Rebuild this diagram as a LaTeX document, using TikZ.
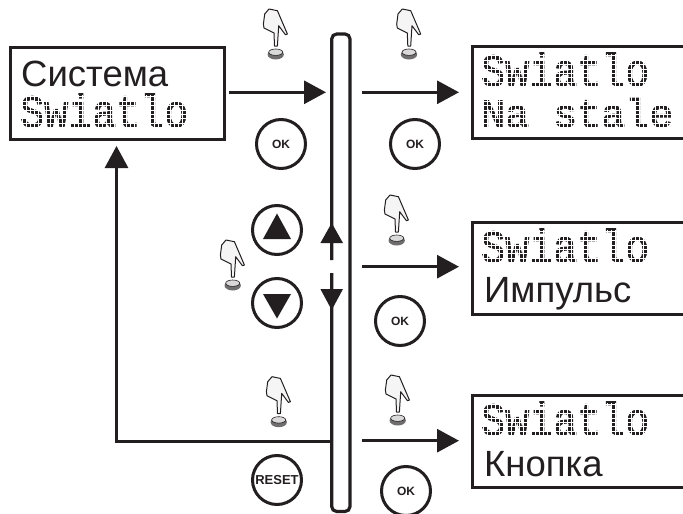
\documentclass[tikz,border=0pt]{standalone}
\usepackage{fontspec}
\setmainfont{Liberation Sans}
\newfontfamily\dotfont[FakeBold=2.5]{Liberation Mono}
\usetikzlibrary{arrows.meta,shapes.geometric}
\definecolor{ink}{HTML}{231F20}
\tikzset{
  lcd/.style={draw=ink,line width=3.2pt,rectangle,anchor=north west,inner sep=0pt},
  flow/.style={draw=ink,line width=3pt,-{Triangle[length=22pt,width=23pt]}},
  rail/.style={draw=ink,line width=3.2pt},
  btn/.style={circle,draw=ink,line width=3pt,minimum size=49pt,inner sep=0pt,fill=white},
  oklabel/.style={font=\bfseries\fontsize{12}{12}\selectfont,text=ink},
  label/.style={font=\fontsize{36.5}{36.5}\selectfont,text=ink,anchor=base west,inner sep=0pt,text depth=0pt},
  dotlabel/.style={font=\dotfont\fontsize{40}{40}\selectfont,text=ink,anchor=base west,inner sep=0pt,text height=27pt,text depth=0pt},
  pics/hand/.style={code={
    \fill[ink!65] (0,1.5) ellipse [x radius=8.2,y radius=5];
    \draw[ink,line width=.6pt,fill=black!15] (0,-0.8) ellipse [x radius=7,y radius=3.2];
    \draw[ink,line width=1pt,fill=black!4,line join=round]
      (-6.7,-44) -- (1.7,-42.3) -- (11.7,-19) -- (9.7,-18.3) -- (3,-27.3) -- (1.7,-7) -- (-1.2,-7)
      -- (-1.7,-20) -- (-11.7,-25) -- (-12.3,-29) -- (-11,-39) -- cycle;
  }}
}
% real text, cut into dot-matrix cells by a white grid
\newcommand{\dotrow}[7]{% name, x, baseline, y stretch, text, cols, rows
  \node[dotlabel] (#1) at (#2,#3) {\smash{\scalebox{1}[#4]{#5}}};
  \foreach \k in {0,...,#6} \draw[white,line width=.8pt] ({#2+2+\k*4},{#3-31-0.6}) -- ({#2+2+\k*4},{#3+2});
  \foreach \k in {0,...,#7} \draw[white,line width=.8pt] ({#2},{#3+0.6-\k*4.4}) -- ({#2+2+#6*4},{#3+0.6-\k*4.4});
}
\begin{document}
\begin{tikzpicture}[x=1pt,y=-1pt]
\useasboundingbox (0,0) rectangle (683,514);
% LCD boxes
\node[lcd,minimum width=214pt,minimum height=92pt] (b0) at (9,46) {};
\node[lcd,minimum width=216pt,minimum height=92pt] (b1) at (471,45) {};
\node[lcd,minimum width=216pt,minimum height=92pt] (b2) at (471,221) {};
\node[lcd,minimum width=216pt,minimum height=92pt] (b3) at (471,394) {};
% texts
\node[label] (t0) at (21,86) {Система};
\dotrow{d0}{20}{127}{1.15}{Swiatlo}{42}{7}
\dotrow{d1}{481}{86}{1.15}{Swiatlo}{42}{7}
\dotrow{d1b}{481}{127}{1}{Na stale}{48}{6}
\dotrow{d2}{481}{262}{1.15}{Swiatlo}{42}{7}
\node[label] (t2) at (484,302) {Импульс};
\dotrow{d3}{481}{435}{1.15}{Swiatlo}{42}{7}
\node[label] (t3) at (484,476) {Кнопка};
% rail
\coordinate (railUp) at (331.7,260);
\coordinate (railDn) at (331.7,273);
\coordinate (tipUp) at (331.7,223);
\coordinate (tipDn) at (331.7,310);
\coordinate (railJoin) at (331.7,441);
\coordinate (corner) at (116.5,441);
\draw[rail,rounded corners=5pt] (railUp) -- (331.7,34) -- (350,34) -- (350,511.5) -- (331.7,511.5) -- (railDn);
\fill[ink] (tipUp) -- (343,243) -- (320.4,243) -- cycle;
\fill[ink] (tipDn) -- (343,289) -- (320.4,289) -- cycle;
% arrows
\coordinate (a1s) at (229,92.3); \coordinate (a1e) at (326,92.3);
\coordinate (a2s) at (362,92.3); \coordinate (a2e) at (459,92.3);
\coordinate (a3s) at (362,266.7); \coordinate (a3e) at (459,266.7);
\coordinate (a4s) at (362,440.7); \coordinate (a4e) at (459,440.7);
\coordinate (a5e) at (116.5,146);
\draw[flow] (a1s) -- (a1e);
\draw[flow] (a2s) -- (a2e);
\draw[flow] (a3s) -- (a3e);
\draw[flow] (a4s) -- (a4e);
\draw[flow] (railJoin) -- (corner) -- (a5e);
% buttons
\node[btn,oklabel] (ok1) at (281,144) {OK};
\node[btn,oklabel] (ok2) at (415,144) {OK};
\node[btn,oklabel] (ok3) at (400,321) {OK};
\node[btn,oklabel] (ok4) at (406,491) {OK};
\node[btn,font=\bfseries\fontsize{13}{13}\selectfont,text=ink] (reset) at (277,480) {RESET};
\node[btn] (up) at (277,230) {};
\node[btn] (down) at (277,303) {};
\fill[ink] (277,213.5) -- (291,239) -- (263,239) -- cycle;
\fill[ink] (277,318.5) -- (291,294) -- (263,294) -- cycle;
% hands
\pic at (275.7,53) {hand};
\pic at (409,53) {hand};
\pic at (396.7,239) {hand};
\pic at (232.7,284) {hand};
\pic at (278.7,420.7) {hand};
\pic at (397.7,419) {hand};
\end{tikzpicture}
\end{document}
